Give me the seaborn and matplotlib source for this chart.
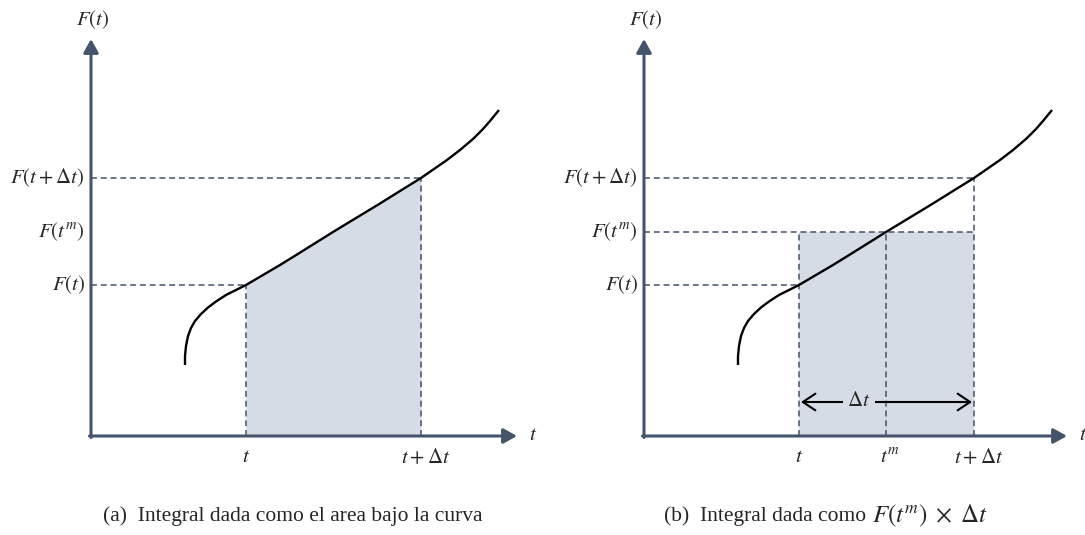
import matplotlib
matplotlib.use("Agg")
import matplotlib.pyplot as plt
import seaborn as sns
import pandas as pd

sns.set_theme(style="white")
plt.rcParams["font.family"] = ["Liberation Serif", "DejaVu Serif"]
plt.rcParams["mathtext.fontset"] = "stix"

# Sampled points of F(t)
curve_t = [9.4, 9.4, 9.5, 9.7, 10.0, 10.4, 11.0, 11.7, 12.5, 13.5, 14.5,
           15.5, 17.2, 18.9, 20.6, 22.2, 24.2, 25.6, 27.2, 28.9, 30.9,
           33.0, 35.6, 36.9, 38.2, 39.2, 39.9, 40.8]
curve_F = [7.1, 8.0, 9.0, 10.0, 10.8, 11.5, 12.2, 12.85, 13.45, 14.1, 14.6,
           15.1, 16.1, 17.1, 18.15, 19.15, 20.4, 21.25, 22.22, 23.25, 24.5,
           25.8, 27.6, 28.6, 29.7, 30.7, 31.5, 32.6]

# Marked instants and values
t0, t_m, t1 = 15.5, 24.2, 33.0
F_t0, F_tm, F_t1 = 15.1, 20.4, 25.8

x_tip_a, x_tip_b, y_tip = 42.6, 42.3, 39.7

lab_t = r"$t$"
lab_tm = r"$t^{m}$"
lab_t1 = r"$t+\Delta t$"
lab_Ft0 = r"$F\left(t\right)$"
lab_Ftm = r"$F\left(t^{m}\right)$"
lab_Ft1 = r"$F\left(t+\Delta t\right)$"
lab_dt = r"$\Delta t$"
cap_a = "(a)  Integral dada como el area bajo la curva"
cap_b_text = "(b)  Integral dada como"
cap_b_math = r"$F(t^{m})\;\times\;\Delta t$"

AXIS_C = "#44546A"
FILL_C = "#D6DCE5"
DASH = (0, (3.9, 2.5))
FS = 15

df = pd.DataFrame({"t": curve_t, "F": curve_F})

fig = plt.figure(figsize=(10.85, 5.35), dpi=100)
ax_a = fig.add_axes([0, 0, 540 / 1085, 1])
ax_b = fig.add_axes([553 / 1085, 0, 532 / 1085, 1])
ax_a.set_xlim(-9.1, 44.9)
ax_b.set_xlim(-9.1, 44.1)
for ax in (ax_a, ax_b):
    ax.set_ylim(-9.9, 43.6)
    ax.axis("off")


def draw_axes(ax, x_tip):
    kw = dict(arrowstyle="-|>,head_length=0.45,head_width=0.25", lw=2.2,
              color=AXIS_C, shrinkA=0, shrinkB=0, mutation_scale=18)
    ax.annotate("", xy=(x_tip, 0), xytext=(-0.15, 0), arrowprops=kw, zorder=5)
    ax.annotate("", xy=(0, y_tip), xytext=(0, -0.15), arrowprops=kw, zorder=5)
    ax.text(x_tip + 1.6, 0, lab_t, ha="center", va="center", fontsize=FS)
    ax.text(0.2, y_tip + 1.9, lab_Ft0, ha="center", va="center", fontsize=FS)


def dashed(ax, xs, ys):
    ax.plot(xs, ys, color=AXIS_C, lw=1.1, linestyle=DASH, zorder=3)


def draw_curve(ax):
    sns.lineplot(data=df, x="t", y="F", ax=ax, sort=False, estimator=None,
                 color="black", lw=1.7, zorder=4)
    ln = ax.lines[-1]
    ln.set_solid_joinstyle("round")
    ln.set_solid_capstyle("butt")


# Panel (a): area under the curve
sub = df[(df["t"] >= t0) & (df["t"] <= t1)]
ax_a.fill_between(sub["t"], 0, sub["F"], color=FILL_C, lw=0, zorder=1)
dashed(ax_a, [0, t0], [F_t0, F_t0])
dashed(ax_a, [0, t1], [F_t1, F_t1])
dashed(ax_a, [t0, t0], [0, F_t0])
dashed(ax_a, [t1, t1], [0, F_t1])
draw_curve(ax_a)
draw_axes(ax_a, x_tip_a)

# Panel (b): rectangle F(t^m) x dt
ax_b.bar(t0, F_tm, width=t1 - t0, align="edge", color=FILL_C, lw=0, zorder=1)
dashed(ax_b, [0, t0], [F_t0, F_t0])
dashed(ax_b, [0, t1], [F_tm, F_tm])
dashed(ax_b, [0, t1], [F_t1, F_t1])
dashed(ax_b, [t0, t0], [0, F_tm])
dashed(ax_b, [t_m, t_m], [0, F_tm])
dashed(ax_b, [t1, t1], [0, F_t1])
draw_curve(ax_b)
draw_axes(ax_b, x_tip_b)

# Width arrow across the rectangle
ax_b.annotate("", xy=(t1 - 0.2, 3.4), xytext=(t0 + 0.2, 3.4),
              arrowprops=dict(arrowstyle="<->,head_length=0.45,head_width=0.3",
                              lw=1.5, color="black", shrinkA=0, shrinkB=0,
                              mutation_scale=20), zorder=4)
ax_b.text(21.5, 3.4, lab_dt, ha="center", va="center", fontsize=FS, zorder=5,
          bbox=dict(boxstyle="square,pad=0.2", fc=FILL_C, ec="none"))

# Tick-style labels
for ax in (ax_a, ax_b):
    ax.text(t0, -2.2, lab_t, ha="center", va="center", fontsize=FS)
    ax.text(t1 + 0.5, -2.2, lab_t1, ha="center", va="center", fontsize=FS)
    ax.text(-0.6, F_t0, lab_Ft0, ha="right", va="center", fontsize=FS)
    ax.text(-0.6, F_t1, lab_Ft1, ha="right", va="center", fontsize=FS)
    ax.text(-0.6, F_tm, lab_Ftm, ha="right", va="center", fontsize=FS)
ax_b.text(t_m + 0.4, -2.2, lab_tm, ha="center", va="center", fontsize=FS)

# Captions
cap_y = 1 - 516 / 535
fig.text(293 / 1085, cap_y, cap_a, ha="center", va="center", fontsize=15.5)
fig.text(866 / 1085, cap_y, cap_b_text, ha="right", va="center", fontsize=15.5)
fig.text(872 / 1085, cap_y, cap_b_math, ha="left", va="center", fontsize=18)

fig.savefig("out.png", dpi=100)
